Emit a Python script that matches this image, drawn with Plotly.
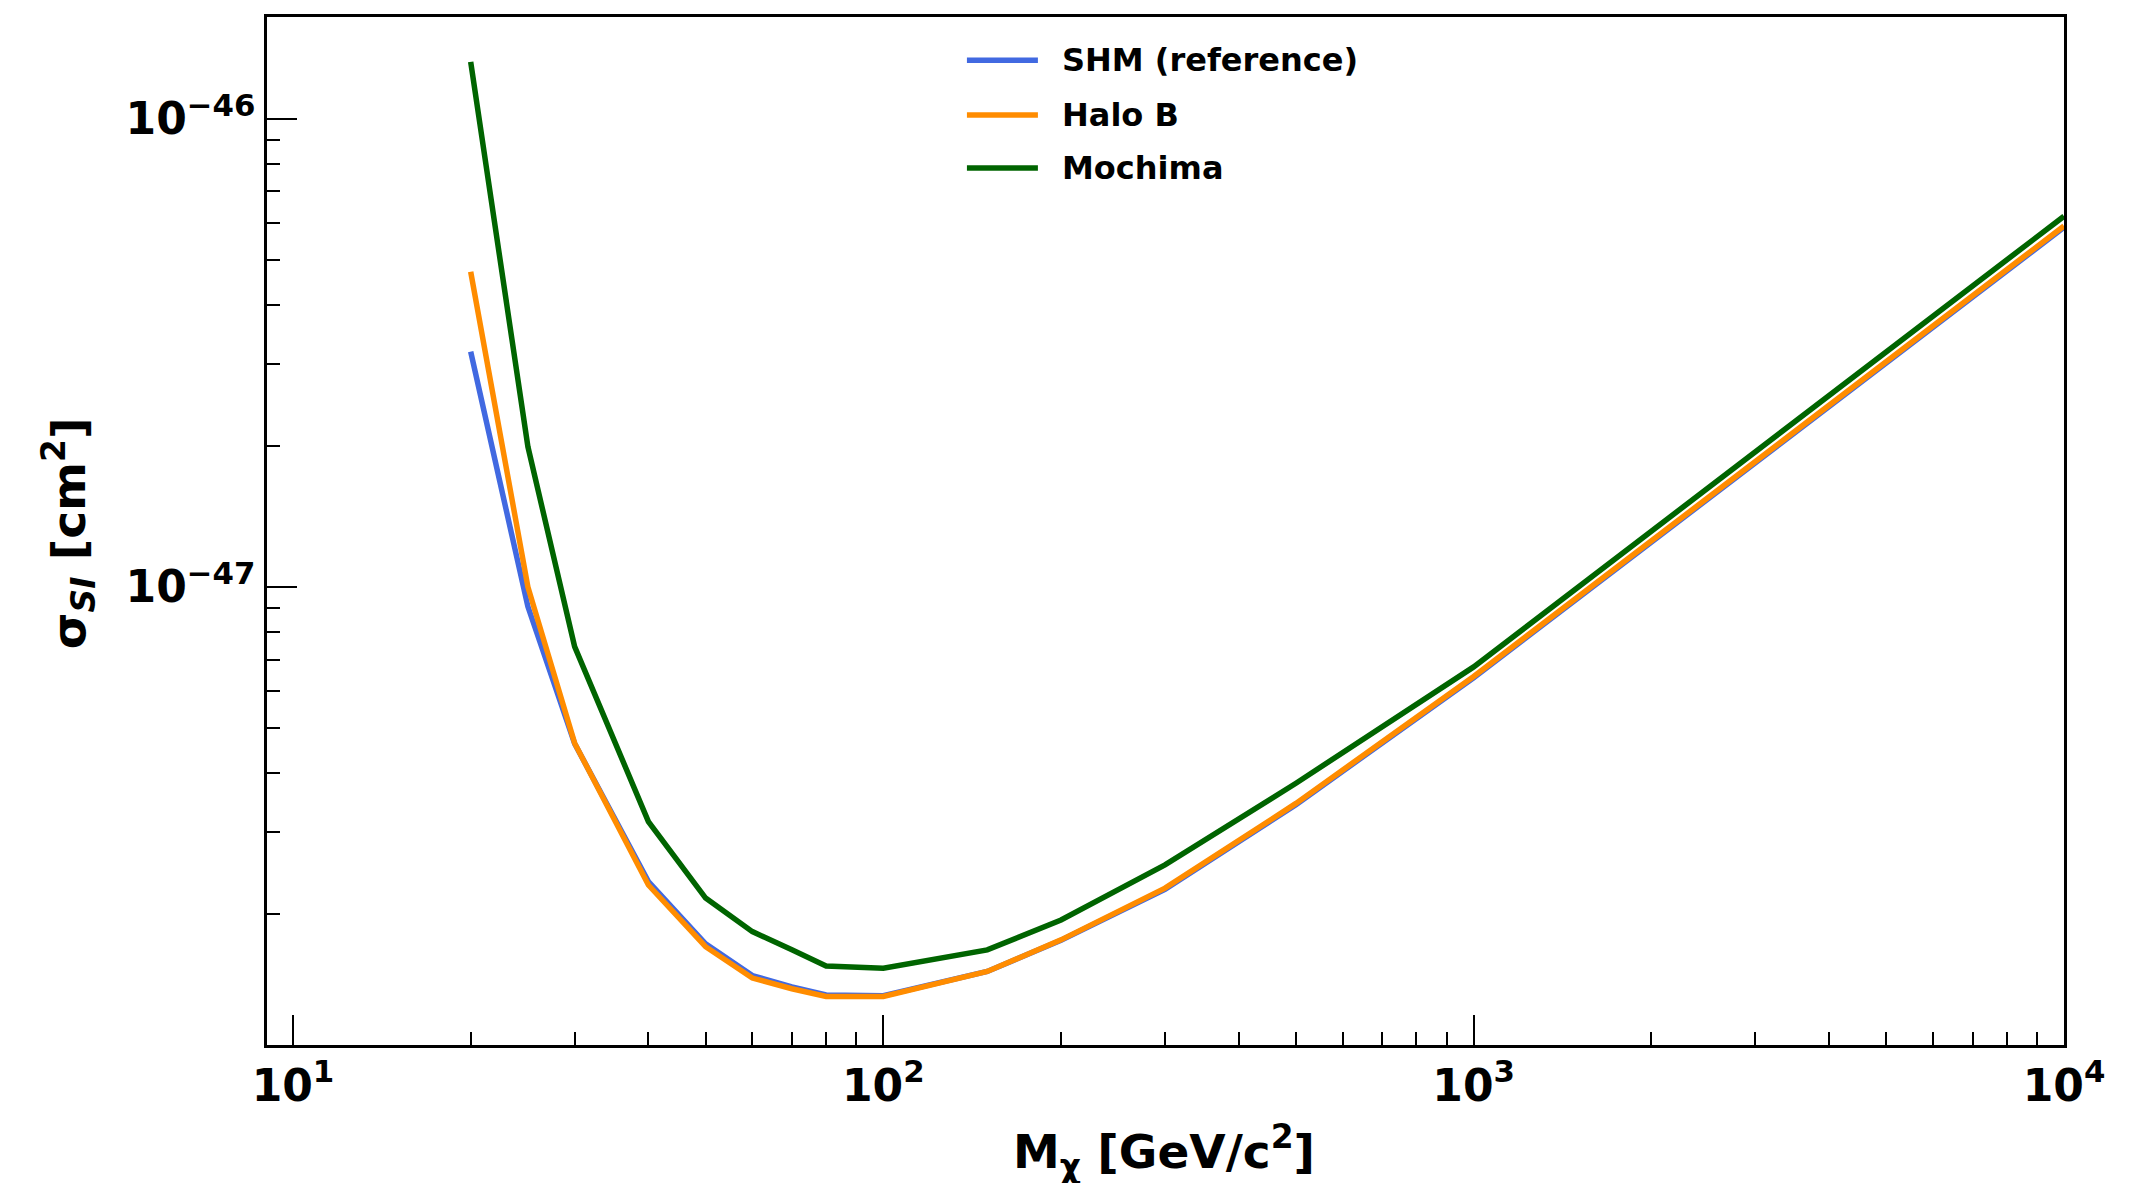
import plotly.graph_objects as go

# WIMP mass grid [GeV/c^2]
mass = [20, 25, 30, 40, 50, 60, 70, 80, 100, 150, 200, 300, 500, 1000, 10000]

# 90% C.L. spin-independent cross-section limits [cm^2] for each halo model
sigma_shm = [3.18e-47, 9.08e-48, 4.63e-48, 2.35e-48, 1.73e-48, 1.48e-48, 1.40e-48,
             1.345e-48, 1.34e-48, 1.51e-48, 1.76e-48, 2.26e-48, 3.43e-48, 6.40e-48, 5.86e-47]
sigma_halo_b = [4.71e-47, 1.00e-47, 4.64e-48, 2.31e-48, 1.706e-48, 1.462e-48, 1.387e-48,
                1.335e-48, 1.335e-48, 1.51e-48, 1.764e-48, 2.275e-48, 3.45e-48, 6.44e-48, 5.90e-47]
sigma_mochima = [1.322e-46, 1.993e-47, 7.46e-48, 3.155e-48, 2.166e-48, 1.837e-48, 1.68e-48,
                 1.552e-48, 1.535e-48, 1.679e-48, 1.945e-48, 2.55e-48, 3.81e-48, 6.75e-48, 6.19e-47]

series_names = ["SHM (reference)", "Halo B", "Mochima"]
series_colors = ["#4169E1", "#FF8C00", "#006400"]

# Axis tick labels
x_tickvals = [10, 100, 1000, 10000]
x_ticktext = ["10<sup>1</sup>", "10<sup>2</sup>", "10<sup>3</sup>", "10<sup>4</sup>"]
y_tickvals = [1e-47, 1e-46]
y_ticktext = ["10<sup>\u221247</sup>", "10<sup>\u221246</sup>"]

FONT = "DejaVu Sans"
LINE_W = 5.5

fig = go.Figure()
for name, ys, color in zip(series_names, [sigma_shm, sigma_halo_b, sigma_mochima], series_colors):
    fig.add_trace(go.Scatter(
        x=mass, y=ys, mode="lines", name=name,
        line=dict(color=color, width=LINE_W),
        showlegend=False,
    ))

x_minor = [m * 10 ** d for d in range(1, 4) for m in range(2, 10)]
y_minor = [m * 10.0 ** d for d in (-48, -47) for m in range(2, 10)]

axis_common = dict(
    type="log",
    showgrid=False,
    zeroline=False,
    showline=True,
    linecolor="black",
    linewidth=2.5,
    mirror=True,
    ticks="inside",
    ticklen=30,
    tickwidth=2,
    tickcolor="black",
    tickmode="array",
    tickfont=dict(family=FONT, size=44, color="black", weight="bold"),
)

fig.update_xaxes(
    **axis_common,
    range=[0.956, 4.0],
    tickvals=x_tickvals,
    ticktext=x_ticktext,
    minor=dict(tickmode="array", tickvals=x_minor, ticks="inside", ticklen=13,
               tickwidth=1.5, tickcolor="black", showgrid=False),
)
fig.update_yaxes(
    **axis_common,
    range=[-47.978, -45.783],
    tickvals=y_tickvals,
    ticktext=y_ticktext,
    minor=dict(tickmode="array", tickvals=y_minor, ticks="inside", ticklen=13,
               tickwidth=1.5, tickcolor="black", showgrid=False),
)

# Legend drawn as line samples with labels in the upper middle of the axes
legend_x0, legend_x1, legend_text_x = 0.3895, 0.429, 0.4413
legend_rows = [0.958, 0.9047, 0.8531]
shapes = []
annotations = []
for name, color, yrow in zip(series_names, series_colors, legend_rows):
    shapes.append(dict(type="line", xref="paper", yref="paper",
                       x0=legend_x0, x1=legend_x1, y0=yrow, y1=yrow,
                       line=dict(color=color, width=LINE_W)))
    annotations.append(dict(xref="paper", yref="paper", x=legend_text_x, y=yrow,
                            xanchor="left", yanchor="middle", showarrow=False,
                            text="<b>" + name + "</b>",
                            font=dict(family=FONT, size=32, color="black")))

# Axis titles
annotations.append(dict(xref="paper", yref="paper", x=0.499, y=-0.104,
                        xanchor="center", yanchor="middle", showarrow=False,
                        text="<b>M<sub>\u03c7</sub> [GeV/c<sup>2</sup>]</b>",
                        font=dict(family=FONT, size=47, color="black")))
annotations.append(dict(xref="paper", yref="paper", x=-0.1107, y=0.498,
                        xanchor="center", yanchor="middle", showarrow=False,
                        textangle=-90,
                        text="<b>\u03c3<sub><i>SI</i></sub> [cm<sup>2</sup>]</b>",
                        font=dict(family=FONT, size=47, color="black")))

fig.update_layout(
    width=2142,
    height=1183,
    margin=dict(l=267, r=78, t=17, b=138),
    paper_bgcolor="white",
    plot_bgcolor="white",
    font=dict(family=FONT, color="black"),
    shapes=shapes,
    annotations=annotations,
)

fig.write_html("out.html")
